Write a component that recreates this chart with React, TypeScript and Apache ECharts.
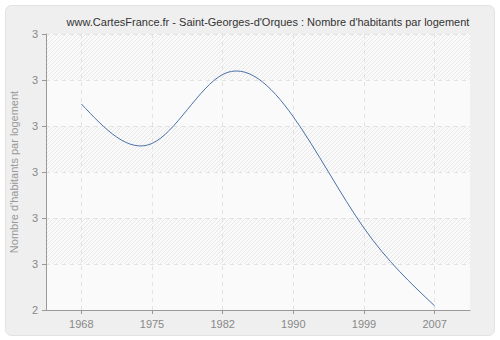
import React, { useEffect, useRef } from "react";
import * as echarts from "echarts";

const years = ["1968", "1975", "1982", "1990", "1999", "2007"];
const values = [2.848, 2.762, 2.912, 2.82, 2.578, 2.409];
const yTicks = { min: 2.4, max: 3.0, interval: 0.1 };
const titleText = "www.CartesFrance.fr - Saint-Georges-d'Orques : Nombre d'habitants par logement";
const yName = "Nombre d'habitants par logement";

function makeHatch(): any {
  const c = document.createElement("canvas");
  c.width = 4;
  c.height = 4;
  const ctx = c.getContext("2d")!;
  ctx.fillStyle = "#fafafa";
  ctx.fillRect(0, 0, 4, 4);
  ctx.strokeStyle = "#e8e8e8";
  ctx.lineWidth = 1;
  ctx.beginPath();
  ctx.moveTo(0, 4);
  ctx.lineTo(4, 0);
  ctx.moveTo(-1, 1);
  ctx.lineTo(1, -1);
  ctx.moveTo(3, 5);
  ctx.lineTo(5, 3);
  ctx.stroke();
  return { image: c, repeat: "repeat" };
}

// natural cubic spline second derivatives (uniform parameter spacing)
function splineM(ys: number[]): number[] {
  const n = ys.length;
  const M = new Array(n).fill(0);
  if (n < 3) return M;
  const m = n - 2;
  const cp: number[] = [];
  const dp: number[] = [];
  for (let i = 0; i < m; i++) {
    const d = 6 * (ys[i + 2] - 2 * ys[i + 1] + ys[i]);
    if (i === 0) {
      cp[i] = 1 / 4;
      dp[i] = d / 4;
    } else {
      const den = 4 - cp[i - 1];
      cp[i] = 1 / den;
      dp[i] = (d - dp[i - 1]) / den;
    }
  }
  const sol: number[] = new Array(m);
  sol[m - 1] = dp[m - 1];
  for (let i = m - 2; i >= 0; i--) sol[i] = dp[i] - cp[i] * sol[i + 1];
  for (let i = 0; i < m; i++) M[i + 1] = sol[i];
  return M;
}

export default function App() {
  const ref = useRef<HTMLDivElement>(null);
  useEffect(() => {
    document.body.style.margin = "0";
    const chart = echarts.init(ref.current!, null, { renderer: "svg" });
    const hatch = makeHatch();
    const font = "Liberation Sans, Arial, sans-serif";
    chart.setOption({
      animation: false,
      backgroundColor: "#ffffff",
      graphic: [
        {
          type: "rect",
          shape: { x: 5.5, y: 5.5, width: 489, height: 330, r: 6 },
          style: { fill: "#efefef", stroke: "#e2e2e2", lineWidth: 1 },
          z: -10,
        },
      ],
      title: {
        text: titleText,
        left: 263,
        top: 11,
        textAlign: "center",
        textStyle: { fontFamily: font, fontSize: 11, fontWeight: "normal", color: "#333" },
      },
      grid: { left: 40, right: 30, top: 34, bottom: 30, show: true, backgroundColor: "#fafafa", borderWidth: 0 },
      xAxis: {
        type: "value",
        min: -0.5,
        max: 5.5,
        axisLine: { onZero: false, lineStyle: { color: "#999" } },
        axisTick: { show: true, length: 4, lineStyle: { color: "#999" }, customValues: [0, 1, 2, 3, 4, 5] },
        axisLabel: {
          customValues: [0, 1, 2, 3, 4, 5],
          formatter: (v: number) => years[Math.round(v)] ?? "",
          color: "#888",
          fontFamily: font,
          fontSize: 11,
          margin: 8,
        },
        splitLine: { show: true, lineStyle: { color: "#e2e2e2", type: [4, 4] } },
      },
      yAxis: {
        type: "value",
        min: yTicks.min,
        max: yTicks.max,
        interval: yTicks.interval,
        name: yName,
        nameLocation: "middle",
        nameGap: 27,
        nameTextStyle: { color: "#999", fontFamily: font, fontSize: 11 },
        axisLine: { show: true, onZero: false, lineStyle: { color: "#999" } },
        axisTick: { show: true, length: 4, lineStyle: { color: "#999" } },
        axisLabel: {
          formatter: (v: number) => String(Math.round(v + 1e-9)),
          color: "#888",
          fontFamily: font,
          fontSize: 11,
          margin: 8,
        },
        splitLine: { show: true, lineStyle: { color: "#e2e2e2", type: [4, 4] } },
        splitArea: { show: true, areaStyle: { color: ["#fafafa", hatch] } },
      },
      series: [
        {
          type: "custom",
          data: values.map((v, i) => [i, v]),
          encode: { x: 0, y: 1 },
          renderItem: (params: any, api: any) => {
            const i = params.dataIndex;
            if (i >= values.length - 1) return null;
            const pts = values.map((v, j) => api.coord([j, v]));
            const ys = pts.map((p: number[]) => p[1]);
            const M = splineM(ys);
            const [x0, y0] = pts[i];
            const [x1, y1] = pts[i + 1];
            const dy0 = y1 - y0 - (2 * M[i] + M[i + 1]) / 6;
            const dy1 = y1 - y0 + (M[i] + 2 * M[i + 1]) / 6;
            const dx = x1 - x0;
            return {
              type: "bezierCurve",
              shape: {
                x1: x0,
                y1: y0,
                cpx1: x0 + dx / 3,
                cpy1: y0 + dy0 / 3,
                cpx2: x1 - dx / 3,
                cpy2: y1 - dy1 / 3,
                x2: x1,
                y2: y1,
              },
              style: { stroke: "#4a72a8", lineWidth: 1, fill: null },
            };
          },
        },
      ],
    });
    return () => chart.dispose();
  }, []);
  return <div ref={ref} style={{ width: 500, height: 340 }} />;
}
